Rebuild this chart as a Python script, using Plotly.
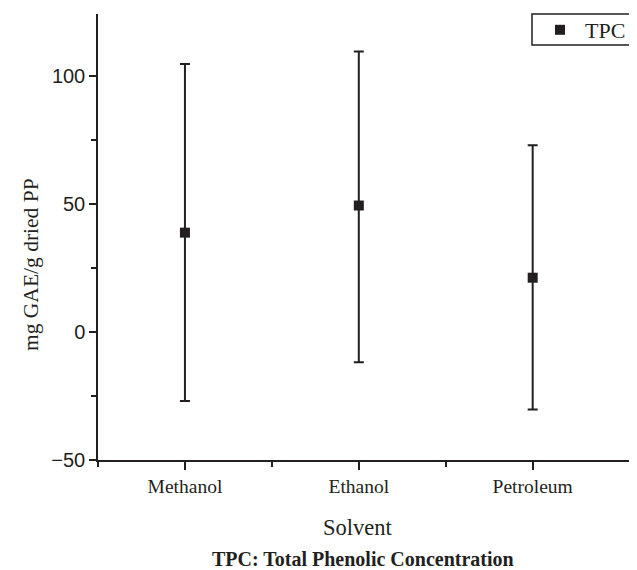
import plotly.graph_objects as go

categories = ["Methanol", "Ethanol", "Petroleum"]
tpc_mean = [38.8, 49.4, 21.2]
err_plus = [65.9, 60.2, 51.7]
err_minus = [65.8, 61.2, 51.5]
y_ticks = [-50, 0, 50, 100]

x_pos = list(range(len(categories)))
dark = "#231f20"
serif = "Liberation Serif, Times New Roman, serif"
sans = "Liberation Sans, Arial, sans-serif"

# page has an 8px body margin; figure coordinates are page coordinates minus 8
L, T, R, B = 90, 6, 8, 118
W, H = 637, 570
pw = W - L - R
ph = H - T - B

def px_to_paper_x(px):
    return (px - 8 - L) / pw

def px_to_paper_y(py):
    return (H - B - (py - 8)) / ph

fig = go.Figure()
fig.add_trace(go.Scatter(
    x=x_pos, y=tpc_mean, mode="markers", name="TPC",
    marker=dict(symbol="square", size=10, color=dark),
    error_y=dict(type="data", symmetric=False, array=err_plus, arrayminus=err_minus,
                 color=dark, thickness=2, width=5),
))

fig.update_layout(
    width=W, height=H,
    margin=dict(l=L, r=R, t=T, b=B, autoexpand=False),
    plot_bgcolor="white", paper_bgcolor="white",
    showlegend=True,
    legend=dict(x=px_to_paper_x(535), y=px_to_paper_y(30), xanchor="left", yanchor="middle",
                borderwidth=0, bgcolor="rgba(0,0,0,0)",
                font=dict(family=serif, size=22, color=dark),
                itemwidth=40, tracegroupgap=0),
    shapes=[dict(type="rect", xref="paper", yref="paper",
                 x0=px_to_paper_x(532), x1=px_to_paper_x(650),
                 y0=px_to_paper_y(45), y1=px_to_paper_y(14),
                 line=dict(color=dark, width=1.5), fillcolor="white", layer="below")],
    annotations=[
        dict(text="<b>TPC: Total Phenolic Concentration</b>", xref="paper", yref="paper",
             x=px_to_paper_x(363), y=px_to_paper_y(559), xanchor="center", yanchor="middle",
             showarrow=False, font=dict(family=serif, size=20, color=dark)),
        dict(text="mg GAE/g dried PP", xref="paper", yref="paper", textangle=-90,
             x=px_to_paper_x(31), y=px_to_paper_y(265), xanchor="center", yanchor="middle",
             showarrow=False, font=dict(family=serif, size=21.5, color=dark)),
        dict(text="Solvent", xref="paper", yref="paper",
             x=px_to_paper_x(358), y=px_to_paper_y(527), xanchor="center", yanchor="middle",
             showarrow=False, font=dict(family=serif, size=22.5, color=dark)),
    ],
)

fig.update_xaxes(
    range=[-0.5, 2.6], tickmode="array", tickvals=x_pos, ticktext=categories,
    showline=True, linecolor=dark, linewidth=1.5, showgrid=False, zeroline=False,
    ticks="outside", ticklen=8, tickwidth=1.5, tickcolor=dark,
    tickfont=dict(family=serif, size=19.5, color=dark),
    minor=dict(tickvals=[-0.5, 0.5, 1.5], ticks="outside", ticklen=5, tickwidth=1.5, tickcolor=dark),
)
fig.update_yaxes(
    range=[-50, 124.2], tickmode="array", tickvals=y_ticks,
    ticktext=[str(v).replace("-", "\u2212") for v in y_ticks],
    showline=True, linecolor=dark, linewidth=1.5, showgrid=False, zeroline=False,
    ticks="outside", ticklen=7, tickwidth=1.5, tickcolor=dark,
    tickfont=dict(family=sans, size=20, color=dark),
    minor=dict(tickvals=[-25, 25, 75], ticks="outside", ticklen=5, tickwidth=1.5, tickcolor=dark),
)

fig.write_html("out.html")
